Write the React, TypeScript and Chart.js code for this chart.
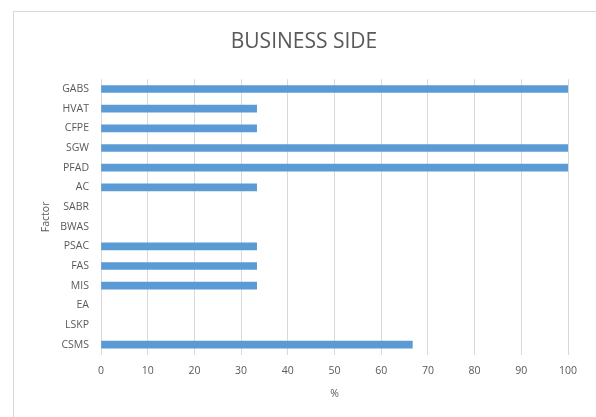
import React, { useEffect, useRef } from "react";
import { Chart, registerables } from "chart.js";

Chart.register(...registerables);

const categories = ["GABS", "HVAT", "CFPE", "SGW", "PFAD", "AC", "SABR", "BWAS", "PSAC", "FAS", "MIS", "EA", "LSKP", "CSMS"];
const values = [100, 33.33, 33.33, 100, 100, 33.33, 0, 0, 33.33, 33.33, 33.33, 0, 0, 66.67];
const xTicks = [0, 10, 20, 30, 40, 50, 60, 70, 80, 90, 100];
const titleText = "BUSINESS SIDE";
const xTitle = "%";
const yTitle = "Factor";

const FONT = "'Open Sans', 'Liberation Sans', sans-serif";
const TXT = "#595959";

const borderPlugin = {
  id: "outerBorder",
  beforeDraw(chart: any) {
    const ctx = chart.ctx;
    ctx.save();
    ctx.fillStyle = "#ffffff";
    ctx.fillRect(0, 0, chart.width, chart.height);
    ctx.strokeStyle = "#d9d9d9";
    ctx.lineWidth = 1;
    ctx.strokeRect(13.5, 11.5, 700, 600);
    ctx.restore();
  },
};

export default function App() {
  const ref = useRef<HTMLCanvasElement | null>(null);
  useEffect(() => {
    document.body.style.margin = "0";
    const chart = new Chart(ref.current as HTMLCanvasElement, {
      type: "bar",
      data: {
        labels: categories,
        datasets: [
          {
            data: values,
            backgroundColor: (c: any) => (c.raw === 0 ? "rgba(0,0,0,0)" : "#5b9bd5"),
            barThickness: 7,
          },
        ],
      },
      plugins: [borderPlugin],
      options: {
        indexAxis: "y",
        animation: false,
        responsive: false,
        maintainAspectRatio: false,
        layout: { padding: { left: 40, right: 28, top: 0, bottom: 0 } },
        plugins: {
          legend: { display: false },
          tooltip: { enabled: false },
          title: {
            display: true,
            text: titleText,
            color: TXT,
            font: { family: FONT, size: 21, weight: "normal" },
            padding: { top: 29, bottom: 25 },
          },
        },
        scales: {
          x: {
            min: 0,
            max: 100,
            afterBuildTicks(scale: any) {
              scale.ticks = xTicks.map((v) => ({ value: v }));
            },
            afterFit(scale: any) {
              scale.height = 62.5;
            },
            grid: { color: "#d9d9d9", drawTicks: false, lineWidth: 1 },
            border: { display: false },
            ticks: { color: TXT, font: { family: FONT, size: 10.5 }, padding: 10 },
            title: { display: true, text: xTitle, color: TXT, font: { family: FONT, size: 10.5 }, padding: { top: 4, bottom: 17 } },
          },
          y: {
            afterFit(scale: any) {
              scale.width = 61;
            },
            grid: { display: false, drawTicks: false },
            border: { display: false },
            ticks: { color: TXT, font: { family: FONT, size: 10.5 }, padding: 12, autoSkip: false },
            title: { display: true, text: yTitle, color: TXT, font: { family: FONT, size: 10.5 }, padding: 0 },
          },
        },
      },
    });
    return () => chart.destroy();
  }, []);
  return (
    <div style={{ position: "absolute", left: 0, top: 0, width: 596, height: 417 }}>
      <canvas ref={ref} width={596} height={417} style={{ width: 596, height: 417 }} />
    </div>
  );
}
